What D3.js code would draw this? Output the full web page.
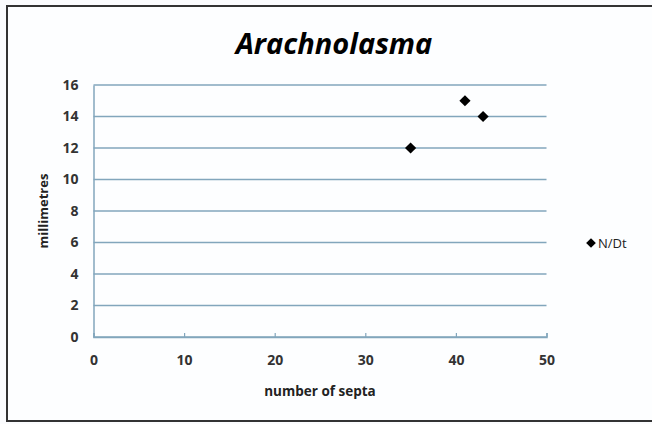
<!DOCTYPE html>
<html><head><meta charset="utf-8">
<script src="https://cdn.jsdelivr.net/npm/d3@7"></script>
<style>body{margin:0;background:#fff}svg{display:block}text{font-family:"Open Sans","DejaVu Sans",sans-serif}</style>
</head><body>
<svg id="c" width="652" height="424"></svg>
<script>
const septa = [35, 41, 43];
const millimetres = [12, 15, 14];
const seriesName = "N/Dt";
const xTicks = [0, 10, 20, 30, 40, 50];
const yTicks = [0, 2, 4, 6, 8, 10, 12, 14, 16];
const title = "Arachnolasma";
const xLabel = "number of septa";
const yLabel = "millimetres";

const svg = d3.select("#c");
svg.append("rect").attr("x",0).attr("y",0).attr("width",652).attr("height",424).attr("fill","#fbfcfe");
svg.append("rect").attr("x",7).attr("y",6).attr("width",650).attr("height",415)
  .attr("fill","#fdfeff").attr("stroke","#333").attr("stroke-width",2);

const x = d3.scaleLinear().domain([0,50]).range([93.5,546.5]);
const y = d3.scaleLinear().domain([0,16]).range([337,85]);

// gridlines
svg.append("g").selectAll("line").data(yTicks).join("line")
  .attr("x1",x(0)).attr("x2",x(50)).attr("y1",d=>y(d)).attr("y2",d=>y(d))
  .attr("stroke","#82a6bc").attr("stroke-width",1.5);

const yAxis = svg.append("g").attr("transform",`translate(${x(0)},0)`)
  .call(d3.axisLeft(y).tickValues(yTicks).tickSize(0).tickPadding(15));
yAxis.select(".domain").attr("stroke","#82a6bc").attr("stroke-width",1.5);
yAxis.selectAll("text").attr("font-size",14).attr("font-weight","bold").attr("fill","#333");

const xAxis = svg.append("g").attr("transform",`translate(0,${y(0)})`)
  .call(d3.axisBottom(x).tickValues(xTicks).tickSize(-4).tickPadding(18));
xAxis.select(".domain").attr("stroke","#82a6bc").attr("stroke-width",1.5);
xAxis.selectAll(".tick line").attr("stroke","#82a6bc").attr("stroke-width",1.2);
xAxis.selectAll("text").attr("font-size",14).attr("font-weight","bold").attr("fill","#333");

svg.append("text").attr("x",334).attr("y",54).attr("text-anchor","middle")
  .attr("font-size",29).attr("font-weight","bold").attr("font-style","italic").attr("fill","#000").text(title);
svg.append("text").attr("x",x(25)).attr("y",396).attr("text-anchor","middle")
  .attr("font-size",13.5).attr("font-weight","bold").attr("fill","#222").text(xLabel);
svg.append("text").attr("transform",`translate(48,${y(8)}) rotate(-90)`).attr("text-anchor","middle")
  .attr("font-size",13).attr("font-weight","bold").attr("fill","#222").text(yLabel);

const diamond = d3.symbol().type(d3.symbolDiamond2).size(80);
svg.append("g").selectAll("path").data(septa.map((s,i)=>[s,millimetres[i]])).join("path")
  .attr("d",diamond).attr("transform",d=>`translate(${x(d[0])},${y(d[1])})`).attr("fill","#000");

svg.append("path").attr("d",d3.symbol().type(d3.symbolDiamond2).size(60)).attr("transform","translate(591,243)").attr("fill","#000");
svg.append("text").attr("x",598).attr("y",248).attr("font-size",13).attr("fill","#222").text(seriesName);
</script>
</body></html>
